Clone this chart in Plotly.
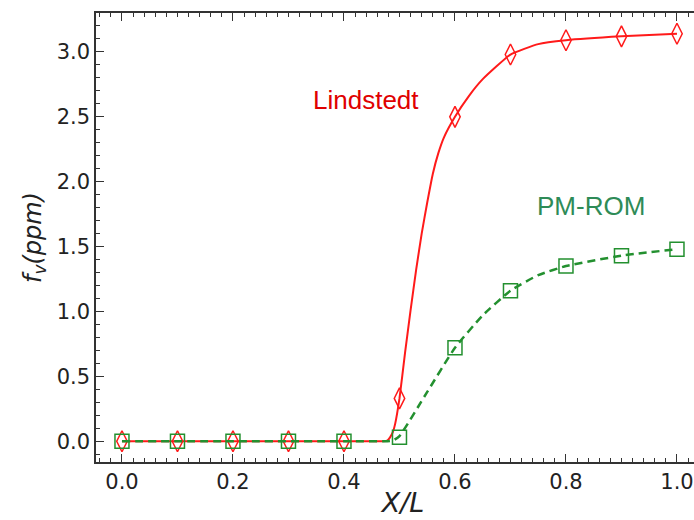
import plotly.graph_objects as go

# marker samples
x_markers = [0.0, 0.1, 0.2, 0.3, 0.4, 0.5, 0.6, 0.7, 0.8, 0.9, 1.0]
lindstedt_markers = [0.0, 0.0, 0.0, 0.0, 0.0, 0.33, 2.5, 2.98, 3.09, 3.12, 3.14]
pmrom_markers = [0.0, 0.0, 0.0, 0.0, 0.0, 0.03, 0.72, 1.16, 1.35, 1.43, 1.48]

# curves
x_lind_curve = [0.0, 0.2, 0.4, 0.47, 0.478, 0.483, 0.488, 0.492, 0.5, 0.51, 0.52, 0.53, 0.54, 0.55,
                0.56, 0.57, 0.58, 0.6, 0.625, 0.65, 0.7, 0.75, 0.8, 0.9, 1.0]
y_lind_curve = [0.0, 0.0, 0.0, 0.0, 0.005, 0.03, 0.07, 0.13, 0.33, 0.68, 1.01, 1.32, 1.6, 1.84,
                2.06, 2.22, 2.34, 2.5, 2.66, 2.79, 2.98, 3.06, 3.09, 3.12, 3.14]
x_pm_curve = [0.0, 0.2, 0.4, 0.478, 0.488, 0.5, 0.55, 0.6, 0.65, 0.7, 0.75, 0.8, 0.9, 1.0]
y_pm_curve = [0.0, 0.0, 0.0, 0.0, 0.005, 0.04, 0.38, 0.72, 0.97, 1.16, 1.28, 1.35, 1.43, 1.48]

RED = "#ff1a1a"
GREEN = "#23902f"

fig = go.Figure()
fig.add_trace(go.Scatter(x=x_lind_curve, y=y_lind_curve, mode="lines",
                         line=dict(color=RED, width=2, shape="spline", smoothing=0.4),
                         showlegend=False, hoverinfo="skip"))
fig.add_trace(go.Scatter(x=x_markers, y=lindstedt_markers, mode="markers",
                         marker=dict(symbol="diamond-tall-open", size=15, color=RED,
                                     line=dict(width=1.5, color=RED)),
                         showlegend=False))
fig.add_trace(go.Scatter(x=x_pm_curve, y=y_pm_curve, mode="lines",
                         line=dict(color=GREEN, width=2.5, dash="8px,5px", shape="spline", smoothing=0.5),
                         showlegend=False, hoverinfo="skip"))
fig.add_trace(go.Scatter(x=x_markers, y=pmrom_markers, mode="markers",
                         marker=dict(symbol="square-open", size=14, color=GREEN,
                                     line=dict(width=1.5, color=GREEN)),
                         showlegend=False))

fig.add_annotation(x=0.44, y=2.63, text="Lindstedt", showarrow=False,
                   font=dict(family="Liberation Sans, Arial", size=26, color="#e00000"),
                   xanchor="center", yanchor="middle")
fig.add_annotation(x=0.845, y=1.81, text="PM-ROM", showarrow=False,
                   font=dict(family="Liberation Sans, Arial", size=26, color="#2e8b57"),
                   xanchor="center", yanchor="middle")

axis_common = dict(
    showgrid=False, zeroline=False, showline=True, linecolor="#333333", linewidth=1.5,
    ticks="inside", ticklen=8, tickwidth=1.3, tickcolor="#333333", mirror="ticks",
    tickfont=dict(family="DejaVu Sans", size=21, color="#222222"), automargin=False,
)

fig.update_xaxes(range=[-0.0468, 1.0595], tickvals=[0.0, 0.2, 0.4, 0.6, 0.8, 1.0],
                 ticktext=["0.0", "0.2", "0.4", "0.6", "0.8", "1.0"],
                 minor=dict(dtick=0.02, tick0=0, ticks="inside", ticklen=4, tickcolor="#333333", tickwidth=1),
                 title=dict(text="<i>X/L</i>", font=dict(family="DejaVu Sans", size=27, color="#222222"), standoff=0),
                 **axis_common)
fig.update_yaxes(range=[-0.16, 3.3], tickvals=[0.0, 0.5, 1.0, 1.5, 2.0, 2.5, 3.0],
                 ticktext=["0.0", "0.5", "1.0", "1.5", "2.0", "2.5", "3.0"],
                 minor=dict(dtick=0.1, tick0=0, ticks="inside", ticklen=4, tickcolor="#333333", tickwidth=1),
                 title=dict(text="<i>f<sub>v</sub>(ppm)</i>", font=dict(family="DejaVu Sans", size=24, color="#222222"), standoff=8),
                 **axis_common)

fig.update_layout(width=710, height=520, margin=dict(l=96, r=0, t=13, b=58),
                  plot_bgcolor="white", paper_bgcolor="white")

fig.write_html("out.html", config={"displayModeBar": False},
               post_script="document.body.style.margin='0';document.body.style.overflow='hidden';")
